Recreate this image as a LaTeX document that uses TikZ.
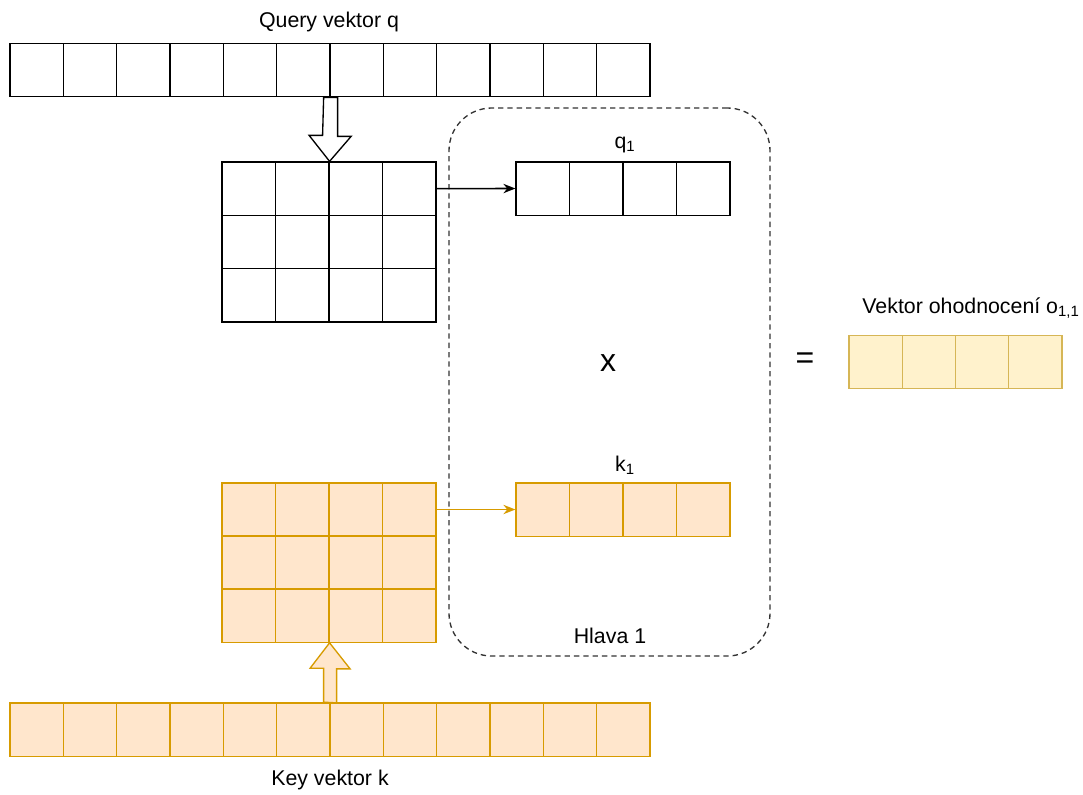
\documentclass[tikz,border=0pt]{standalone}
\usepackage{fontspec}
\setmainfont{Liberation Sans}
\usetikzlibrary{arrows.meta}

\definecolor{keyfill}{HTML}{FFE6CC}
\definecolor{keydraw}{HTML}{D79B00}
\definecolor{outfill}{HTML}{FFF2CC}
\definecolor{outdraw}{HTML}{D6B656}

\begin{document}
\begin{tikzpicture}[x=0.75pt,y=-0.75pt,>={Stealth[length=9pt,width=7pt]},
  cell/.style={draw,line width=1pt,minimum width=40pt,minimum height=40pt,inner sep=0pt},
  keycell/.style={cell,draw=keydraw,fill=keyfill},
  outcell/.style={cell,draw=outdraw,fill=outfill},
  txt/.style={font=\fontsize{16}{19}\selectfont,inner sep=1pt}]
  \useasboundingbox (0,0) rectangle (1083,794);

  % head box behind everything
  \node[draw=black!80,dashed,dash pattern=on 4pt off 3pt,line width=1pt,rounded corners=32pt,
        minimum width=240.75pt,minimum height=411pt] (hlava) at (609.5,382) {};
  \node[txt] (hlavalbl) at (610,636) {Hlava 1};

  % query vector q
  \foreach \i in {0,...,11}
    \node[cell] (q\i) at ({10+53.33*(\i+0.5)},70) {};
  \node[txt] (qlbl) at (329,22) {Query vektor q};

  % query weights, 3 x 4
  \foreach \r in {0,1,2}
    \foreach \c in {0,...,3}
      \node[cell] (gq-\r-\c) at ({222+53.5*(\c+0.5)},{162+53.33*(\r+0.5)}) {};

  % q_1
  \foreach \c in {0,...,3}
    \node[cell] (q1-\c) at ({516+53.5*(\c+0.5)},188.5) {};
  \node[txt] (q1lbl) at (625,145) {q\textsubscript{1}};

  % key weights, 3 x 4
  \foreach \r in {0,1,2}
    \foreach \c in {0,...,3}
      \node[keycell] (gk-\r-\c) at ({222+53.5*(\c+0.5)},{483+53*(\r+0.5)}) {};

  % k_1
  \foreach \c in {0,...,3}
    \node[keycell] (k1-\c) at ({516+53.5*(\c+0.5)},509.5) {};
  \node[txt] (k1lbl) at (625,465) {k\textsubscript{1}};

  % key vector k
  \foreach \i in {0,...,11}
    \node[keycell] (k\i) at ({10+53.33*(\i+0.5)},729.5) {};
  \node[txt] (klbl) at (330,780) {Key vektor k};

  % result
  \foreach \c in {0,...,3}
    \node[outcell] (o-\c) at ({849+53.25*(\c+0.5)},362) {};
  \node[txt] (olbl) at (971,308) {Vektor ohodnocení o\textsubscript{1,1}};

  \node[font=\fontsize{24}{28}\selectfont] (krat) at (608,363) {x};
  \node[font=\fontsize{24}{28}\selectfont] (rovno) at (805,361) {=};

  % block arrows
  \draw[line width=1pt,fill=white] (q5.south east) ++(-7,0) -- ++(14,0) -- ++(0,39)
    -- ++(13.5,0) -- (gq-0-1.north east) -- ++(-20.5,-26) -- ++(13.5,0) -- cycle;
  \draw[line width=1pt,draw=keydraw,fill=keyfill] (k5.north east) ++(-7,0) -- ++(0,-34)
    -- ++(-13.5,0) -- (gk-2-1.south east) -- ++(20.5,26) -- ++(-13.5,0) -- ++(0,34) -- cycle;

  % projections into the head
  \draw[->,line width=1.2pt] (gq-0-3.east) -- (q1-0.west);
  \draw[->,line width=1.2pt,keydraw] (gk-0-3.east) -- (k1-0.west);
\end{tikzpicture}
\end{document}
